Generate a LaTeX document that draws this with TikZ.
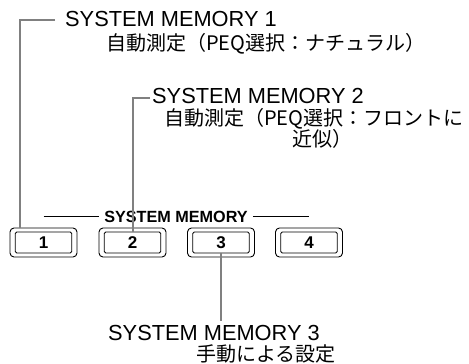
\documentclass[tikz,border=0pt]{standalone}
\usepackage{fontspec}
\setmainfont{Liberation Sans}
\newfontfamily\jpfont{Noto Sans CJK JP}
\definecolor{conngray}{RGB}{128,128,128}
\begin{document}
\begin{tikzpicture}[x=1pt,y=-1pt,
  head/.style={anchor=base west,inner sep=0pt,font=\fontsize{21.8pt}{24pt}\selectfont},
  jptext/.style={anchor=base west,inner sep=0pt,font=\jpfont\fontsize{20pt}{21pt}\selectfont},
  outerbtn/.style={draw=black,line width=0.9pt,rounded corners=4pt,minimum width=67pt,minimum height=29pt,inner sep=0pt},
  innerbtn/.style={draw=black,line width=0.9pt,rounded corners=1.5pt,minimum width=56.5pt,minimum height=21pt,inner sep=0pt,font=\bfseries\fontsize{17pt}{18pt}\selectfont},
  conn/.style={draw=conngray,line width=2pt},
  thin/.style={draw=black,line width=0.9pt}]
\useasboundingbox (0,0) rectangle (469,364);

% headings
\node[head] (sm1) at (65,27) {SYSTEM MEMORY 1};
\node[jptext] (jp1) at (106,50) {自動測定（PEQ選択：ナチュラル）};
\node[head] (sm2) at (152,103) {SYSTEM MEMORY 2};
\node[jptext] (jp2a) at (164,125.5) {自動測定（PEQ選択：フロントに};
\node[jptext] (jp2b) at (292,146.5) {近似）};
\node[head] (sm3) at (108,340.5) {SYSTEM MEMORY 3};
\node[jptext] (jp3) at (196,361) {手動による設定};

% buttons
\foreach \i/\x in {1/43.5,2/132.5,3/221,4/309}{
  \node[outerbtn] (b\i) at (\x,242.5) {};
  \node[innerbtn] (b\i in) at (\x,242.5) {\raisebox{-1pt}{\i}};
}

% SYSTEM MEMORY label
\node[anchor=base,inner xsep=5pt,inner ysep=0pt,font=\bfseries\fontsize{16.2pt}{18pt}\selectfont] (lbl) at (176,222) {SYSTEM MEMORY};
\draw[thin] (b1.center |- lbl.west) -- (lbl.west);
\draw[thin] (lbl.east) -- (b4.center |- lbl.east);

% connectors
\coordinate (k1) at (55,20);
\coordinate (k2) at (150,98);
\coordinate (k3) at (221,321);
\draw[conn] (k1) -| ([xshift=10pt]b1.north west);
\draw[conn] (k2) -| (b2in.north);
\draw[conn] (b3in.south) -- (k3);
\end{tikzpicture}
\end{document}
